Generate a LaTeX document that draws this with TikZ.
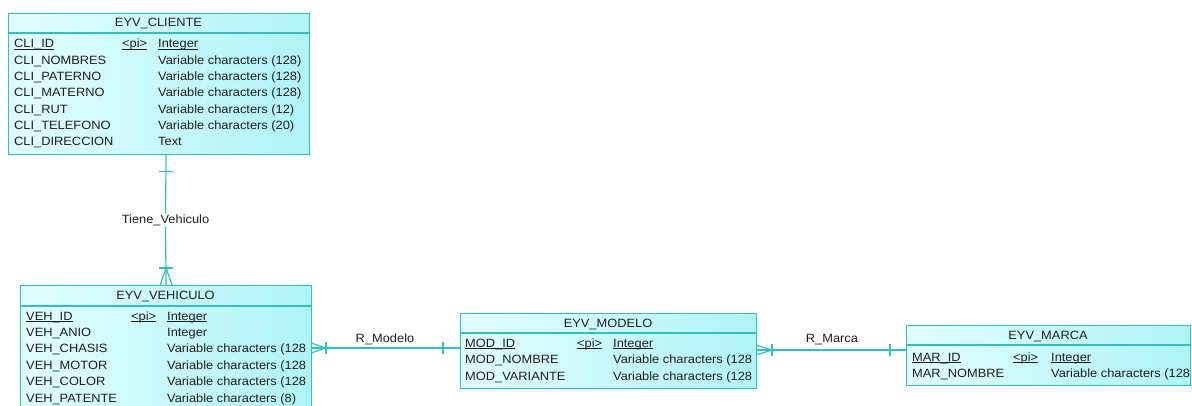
\documentclass[tikz,border=0pt]{standalone}
\usepackage{fontspec}
\setmainfont{Liberation Sans}[FakeStretch=1.07]
\definecolor{entline}{HTML}{33BFBF}
\definecolor{entfillA}{HTML}{E2FEFF}
\definecolor{entfillB}{HTML}{B0F4F6}
\definecolor{txt}{HTML}{1E1E1E}
\newcommand{\pkline}[1]{\setbox0\hbox{#1}\rlap{\vrule height -0.6pt depth 1.6pt width \wd0}\box0}
\tikzset{
  entity/.style={draw=entline,line width=1.2pt,left color=entfillA,right color=entfillB,
    anchor=north west,inner sep=0pt},
  etitle/.style={anchor=base,text=txt,inner sep=0pt},
  attr/.style={anchor=base west,text=txt,inner sep=0pt},
  rel/.style={draw=entline,line width=1.2pt},
  rlabel/.style={text=txt,inner sep=1pt},
}
\begin{document}
\begin{tikzpicture}[x=1pt,y=-1pt,font=\fontsize{12}{14}\selectfont]
\useasboundingbox (0,0) rectangle (1192,406);
% entities
\node[entity,minimum width=301pt,minimum height=141pt] (cliente) at (8,13) {};
\node[entity,minimum width=291pt,minimum height=130pt] (vehiculo) at (20,285) {};
\node[entity,minimum width=296pt,minimum height=75pt] (modelo) at (460,313) {};
\node[entity,minimum width=284pt,minimum height=60pt] (marca) at (906,325) {};
\draw[entline,line width=1.2pt] (8,33) -- (309,33);
\draw[entline,line width=1.2pt] (20,306) -- (311,306);
\draw[entline,line width=1.2pt] (460,333) -- (756,333);
\draw[entline,line width=1.2pt] (906,345) -- (1190,345);
% EYV_CLIENTE
\node[etitle] (cli-t) at (158.5,27) {EYV\_CLIENTE};
\node[attr] (cli-n0) at (14,48) {\pkline{CLI\_ID}};
\node[attr] (cli-p0) at (122,48) {\pkline{<pi>}};
\node[attr] (cli-y0) at (158,48) {\pkline{Integer}};
\foreach \nm/\ty [count=\i] in {CLI\_NOMBRES/Variable characters (128),
    CLI\_PATERNO/Variable characters (128), CLI\_MATERNO/Variable characters (128),
    CLI\_RUT/Variable characters (12), CLI\_TELEFONO/Variable characters (20),
    CLI\_DIRECCION/Text} {
  \node[attr] (cli-n\i) at (14,48+16.3*\i) {\nm};
  \node[attr] (cli-y\i) at (158,48+16.3*\i) {\ty};
}
% EYV_VEHICULO
\node[etitle] (veh-t) at (165.5,299) {EYV\_VEHICULO};
\node[attr] (veh-n0) at (26,320) {\pkline{VEH\_ID}};
\node[attr] (veh-p0) at (131,320) {\pkline{<pi>}};
\node[attr] (veh-y0) at (167,320) {\pkline{Integer}};
\foreach \nm/\ty [count=\i] in {VEH\_ANIO/Integer,
    VEH\_CHASIS/Variable characters (128, VEH\_MOTOR/Variable characters (128,
    VEH\_COLOR/Variable characters (128, VEH\_PATENTE/Variable characters (8)} {
  \node[attr] (veh-n\i) at (26,320+16.4*\i) {\nm};
  \node[attr] (veh-y\i) at (167,320+16.4*\i) {\ty};
}
% EYV_MODELO
\node[etitle] (mod-t) at (608,327) {EYV\_MODELO};
\node[attr] (mod-n0) at (465,347) {\pkline{MOD\_ID}};
\node[attr] (mod-p0) at (577,347) {\pkline{<pi>}};
\node[attr] (mod-y0) at (613,347) {\pkline{Integer}};
\foreach \nm/\ty [count=\i] in {MOD\_NOMBRE/Variable characters (128,
    MOD\_VARIANTE/Variable characters (128} {
  \node[attr] (mod-n\i) at (465,347+16.7*\i) {\nm};
  \node[attr] (mod-y\i) at (613,347+16.7*\i) {\ty};
}
% EYV_MARCA
\node[etitle] (mar-t) at (1048,339) {EYV\_MARCA};
\node[attr] (mar-n0) at (912,361) {\pkline{MAR\_ID}};
\node[attr] (mar-p0) at (1013,361) {\pkline{<pi>}};
\node[attr] (mar-y0) at (1051,361) {\pkline{Integer}};
\node[attr] (mar-n1) at (912,377) {MAR\_NOMBRE};
\node[attr] (mar-y1) at (1051,377) {Variable characters (128};
% relationships
\coordinate (tv-a) at (cliente.south -| vehiculo.north);
\coordinate (rm-a) at (311,348);
\coordinate (rm-b) at (460,348);
\coordinate (rk-a) at (756,350);
\coordinate (rk-b) at (906,350);
\node[rlabel,fill=white] (tv-l) at (165.5,220) {Tiene\_Vehiculo};
\draw[rel] (tv-a) -- (tv-l.north);
\draw[rel] (tv-l.south) -- (vehiculo.north);
\draw[rel] ([xshift=-7pt,yshift=-16pt]tv-a) -- ++(14,0);
\draw[rel] ([xshift=-7pt,yshift=17pt]vehiculo.north) -- ++(14,0);
\draw[rel] ([xshift=-6pt]vehiculo.north) -- ([yshift=17pt]vehiculo.north) -- ([xshift=6pt]vehiculo.north);
\draw[rel] (rm-a) -- (rm-b);
\draw[rel] ([yshift=-5pt]rm-a) -- ([xshift=15pt]rm-a) -- ([yshift=5pt]rm-a);
\draw[rel] ([xshift=15pt,yshift=6pt]rm-a) -- ++(0,12);
\draw[rel] ([xshift=-17pt,yshift=6pt]rm-b) -- ++(0,12);
\node[rlabel] (rm-l) at (385,339) {R\_Modelo};
\draw[rel] (rk-a) -- (rk-b);
\draw[rel] ([yshift=-5pt]rk-a) -- ([xshift=16pt]rk-a) -- ([yshift=5pt]rk-a);
\draw[rel] ([xshift=16pt,yshift=6pt]rk-a) -- ++(0,12);
\draw[rel] ([xshift=-16pt,yshift=6pt]rk-b) -- ++(0,12);
\node[rlabel] (rk-l) at (832,340) {R\_Marca};
\end{tikzpicture}
\end{document}
